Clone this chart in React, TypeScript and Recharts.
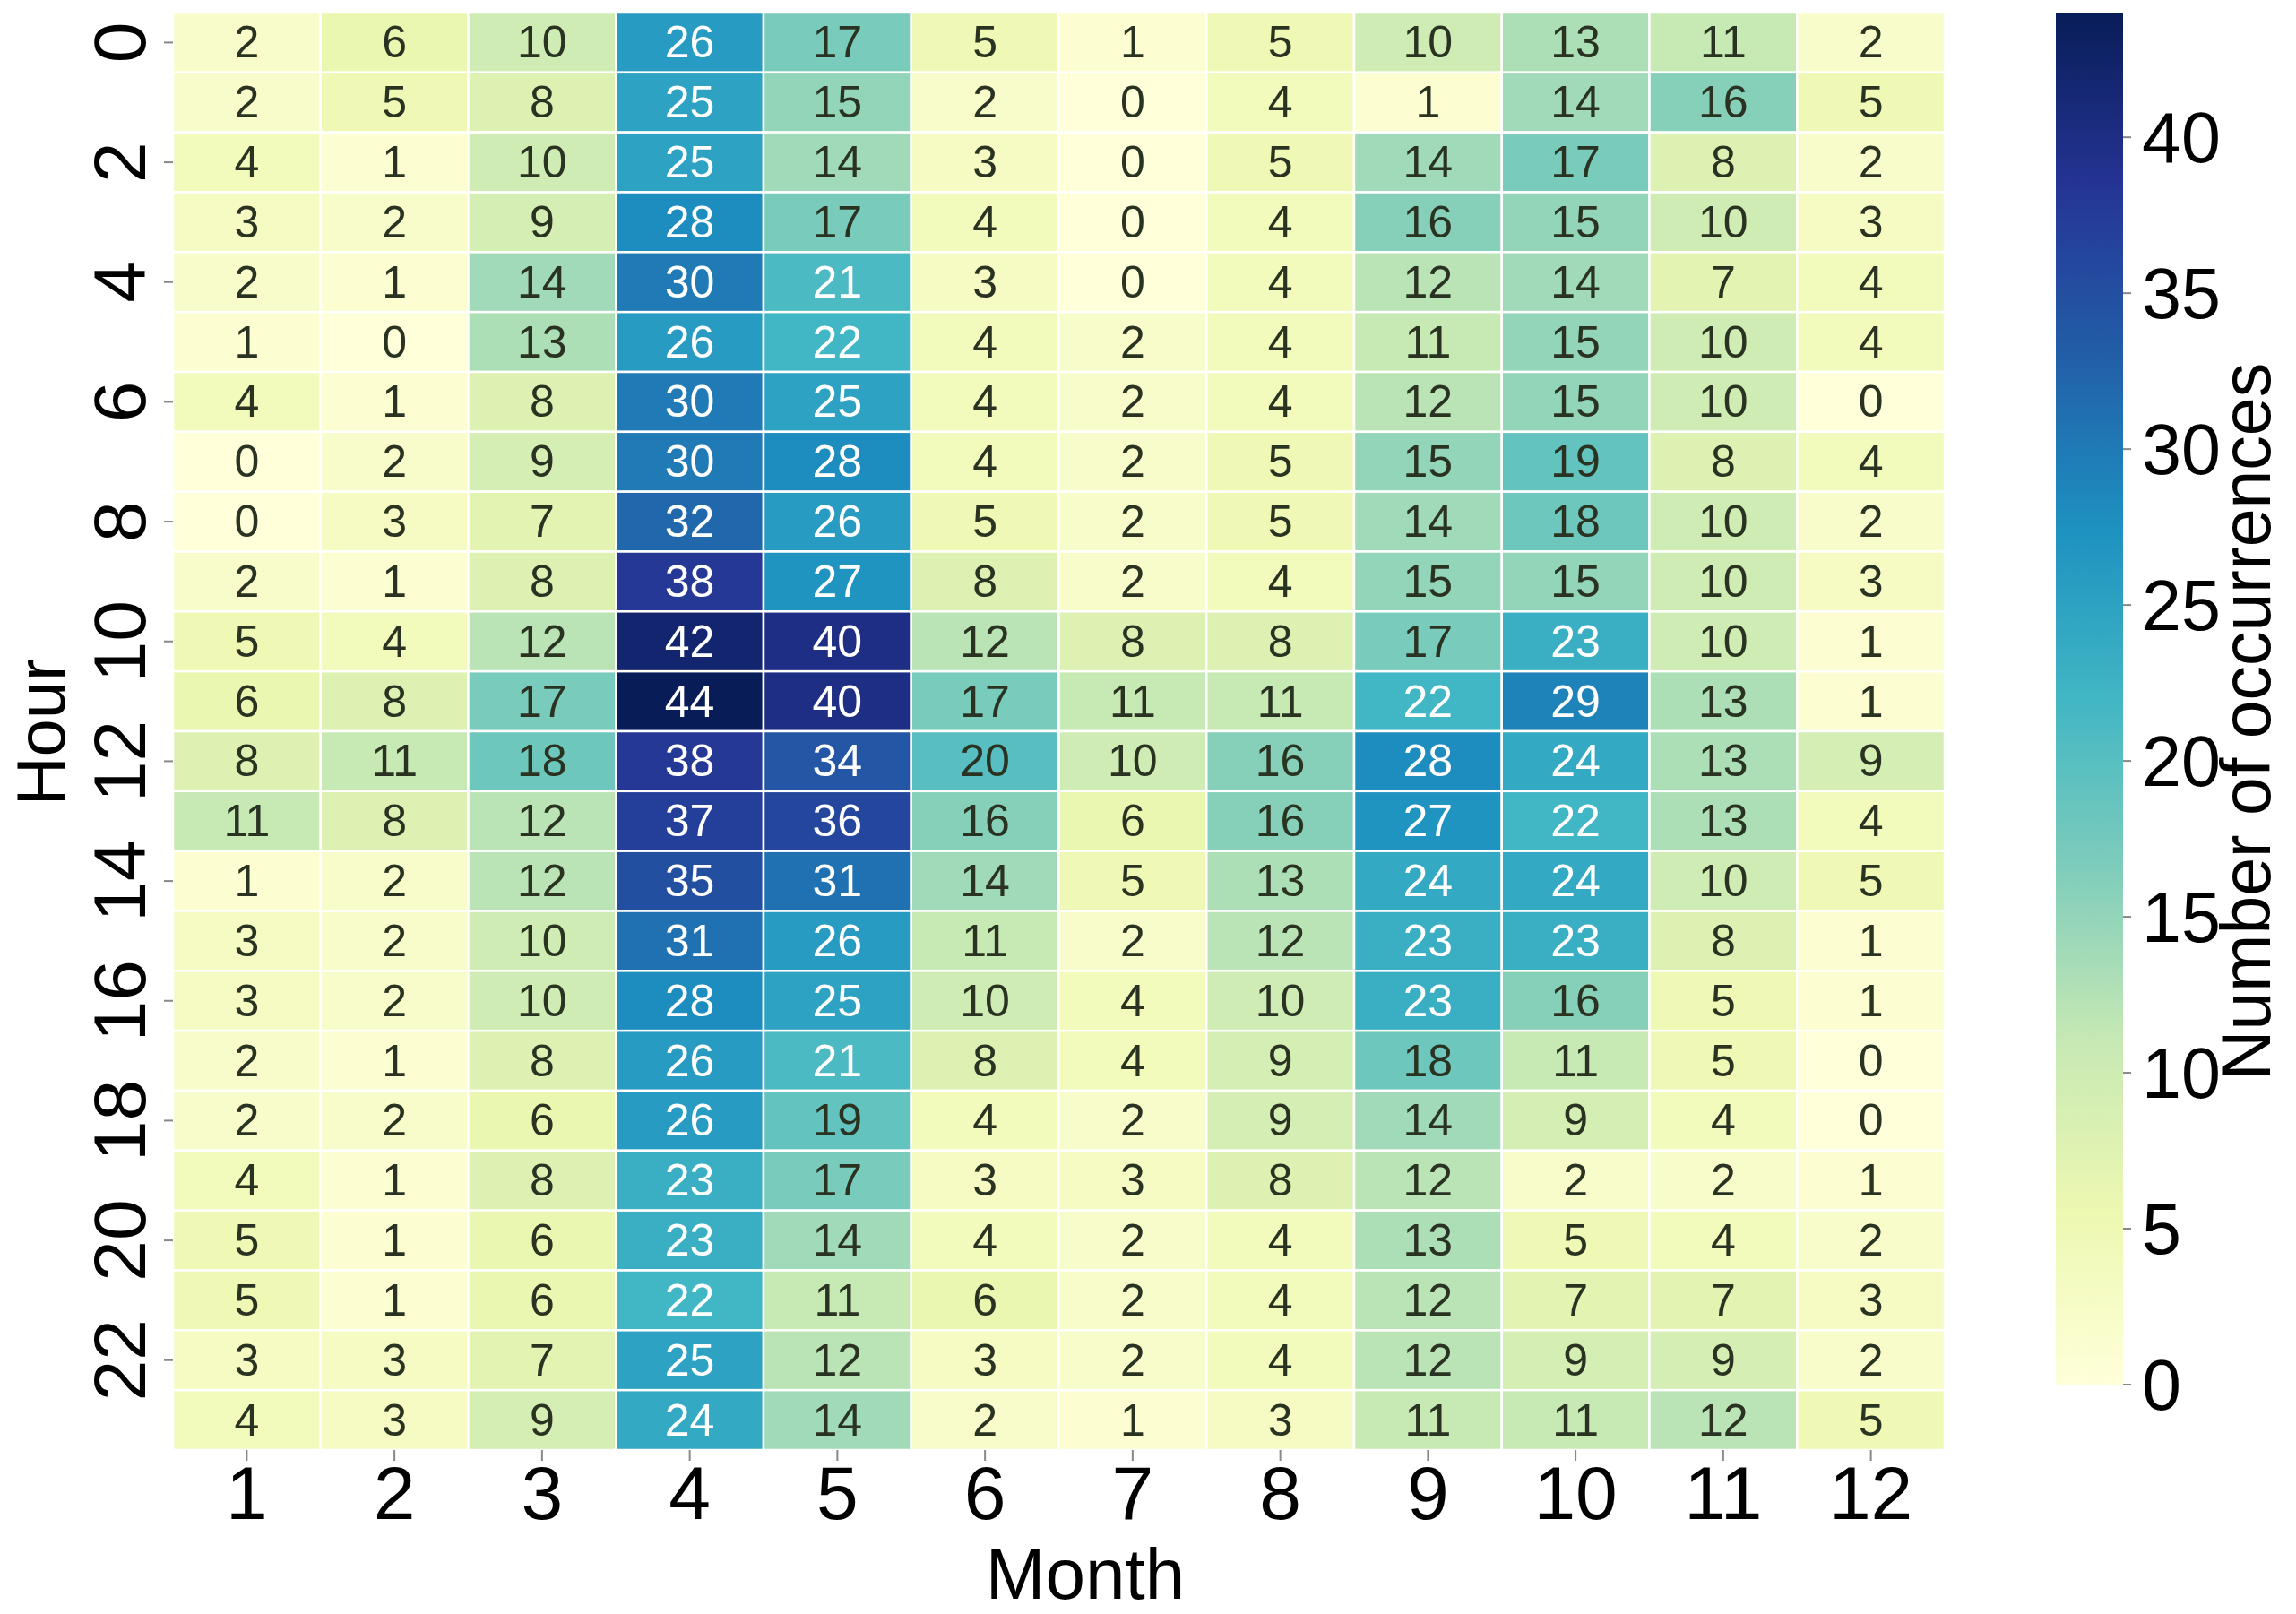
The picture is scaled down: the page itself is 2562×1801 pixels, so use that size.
import { ScatterChart, Scatter, XAxis, YAxis, BarChart, Bar } from "recharts"

const FONT = '"Liberation Sans", Arial, Helvetica, sans-serif'

const months = [1, 2, 3, 4, 5, 6, 7, 8, 9, 10, 11, 12]
const hours = [0, 1, 2, 3, 4, 5, 6, 7, 8, 9, 10, 11, 12, 13, 14, 15, 16, 17, 18, 19, 20, 21, 22, 23]
const hourTicks = [0, 2, 4, 6, 8, 10, 12, 14, 16, 18, 20, 22]
const colorbarTicks = [0, 5, 10, 15, 20, 25, 30, 35, 40]
const colorMax = 44

// occurrences per hour (0..23) for each month
const jan = [2, 2, 4, 3, 2, 1, 4, 0, 0, 2, 5, 6, 8, 11, 1, 3, 3, 2, 2, 4, 5, 5, 3, 4]
const feb = [6, 5, 1, 2, 1, 0, 1, 2, 3, 1, 4, 8, 11, 8, 2, 2, 2, 1, 2, 1, 1, 1, 3, 3]
const mar = [10, 8, 10, 9, 14, 13, 8, 9, 7, 8, 12, 17, 18, 12, 12, 10, 10, 8, 6, 8, 6, 6, 7, 9]
const apr = [26, 25, 25, 28, 30, 26, 30, 30, 32, 38, 42, 44, 38, 37, 35, 31, 28, 26, 26, 23, 23, 22, 25, 24]
const may = [17, 15, 14, 17, 21, 22, 25, 28, 26, 27, 40, 40, 34, 36, 31, 26, 25, 21, 19, 17, 14, 11, 12, 14]
const jun = [5, 2, 3, 4, 3, 4, 4, 4, 5, 8, 12, 17, 20, 16, 14, 11, 10, 8, 4, 3, 4, 6, 3, 2]
const jul = [1, 0, 0, 0, 0, 2, 2, 2, 2, 2, 8, 11, 10, 6, 5, 2, 4, 4, 2, 3, 2, 2, 2, 1]
const aug = [5, 4, 5, 4, 4, 4, 4, 5, 5, 4, 8, 11, 16, 16, 13, 12, 10, 9, 9, 8, 4, 4, 4, 3]
const sep = [10, 1, 14, 16, 12, 11, 12, 15, 14, 15, 17, 22, 28, 27, 24, 23, 23, 18, 14, 12, 13, 12, 12, 11]
const oct = [13, 14, 17, 15, 14, 15, 15, 19, 18, 15, 23, 29, 24, 22, 24, 23, 16, 11, 9, 2, 5, 7, 9, 11]
const nov = [11, 16, 8, 10, 7, 10, 10, 8, 10, 10, 10, 13, 13, 13, 10, 8, 5, 5, 4, 2, 4, 7, 9, 12]
const dec = [2, 5, 2, 3, 4, 4, 0, 4, 2, 3, 1, 1, 9, 4, 5, 1, 1, 0, 0, 1, 2, 3, 2, 5]

const byMonth = [jan, feb, mar, apr, may, jun, jul, aug, sep, oct, nov, dec]

const cells = months.flatMap((m, i) =>
  hours.map((h) => ({ month: m, hour: h, count: byMonth[i][h] }))
)

// YlGnBu
const ylgnbu = ["#ffffd9", "#edf8b1", "#c7e9b4", "#7fcdbb", "#41b6c4", "#1d91c0", "#225ea8", "#253494", "#081d58"]

function hexToRgb(h: string) {
  return [parseInt(h.slice(1, 3), 16), parseInt(h.slice(3, 5), 16), parseInt(h.slice(5, 7), 16)]
}

function cmapRgb(v: number) {
  const t = Math.max(0, Math.min(1, v / colorMax))
  const pos = t * (ylgnbu.length - 1)
  const i = Math.min(Math.floor(pos), ylgnbu.length - 2)
  const f = pos - i
  const a = hexToRgb(ylgnbu[i])
  const b = hexToRgb(ylgnbu[i + 1])
  return a.map((c, k) => Math.round(c + (b[k] - c) * f))
}

function cmap(v: number) {
  const [r, g, b] = cmapRgb(v)
  return `rgb(${r},${g},${b})`
}

function textColor(v: number) {
  const lin = cmapRgb(v).map((c) => {
    const s = c / 255
    return s <= 0.03928 ? s / 12.92 : Math.pow((s + 0.055) / 1.055, 2.4)
  })
  const lum = 0.2126 * lin[0] + 0.7152 * lin[1] + 0.0722 * lin[2]
  return lum > 0.408 ? "#2a3322" : "#ffffff"
}

const W = 2562
const H = 1801
const plotLeft = 193
const plotRight = 2170
const plotTop = 14
const plotBottom = 1618
const cellW = (plotRight - plotLeft) / months.length
const cellH = (plotBottom - plotTop) / hours.length

function HeatCell(props: any) {
  const { cx, cy, payload } = props
  if (cx == null || cy == null) return null
  return (
    <g>
      <rect
        x={cx - cellW / 2}
        y={cy - cellH / 2}
        width={cellW}
        height={cellH}
        fill={cmap(payload.count)}
        stroke="#ffffff"
        strokeWidth={2.5}
      />
      <text
        x={cx}
        y={cy}
        textAnchor="middle"
        dominantBaseline="central"
        fontSize={50}
        fontFamily={FONT}
        fill={textColor(payload.count)}
      >
        {payload.count}
      </text>
    </g>
  )
}

function HourTick(props: any) {
  const { x, y, payload } = props
  const tx = x - 21
  return (
    <text
      x={tx}
      y={y}
      transform={`rotate(-90, ${tx}, ${y})`}
      textAnchor="middle"
      fontSize={82}
      fontFamily={FONT}
      fill="#000"
    >
      {payload.value}
    </text>
  )
}

function ColorbarShape(props: any) {
  const { x, y, width, height } = props
  const base = y + height
  return (
    <g>
      <defs>
        <linearGradient id="cbGrad" x1="0" y1="1" x2="0" y2="0">
          {ylgnbu.map((c, i) => (
            <stop key={i} offset={i / (ylgnbu.length - 1)} stopColor={c} />
          ))}
        </linearGradient>
      </defs>
      <rect x={x} y={y} width={width} height={height} fill="url(#cbGrad)" />
      <polygon
        points={`${x},${base} ${x + width},${base} ${x + width / 2},${base + 75}`}
        fill={cmap(0)}
      />
    </g>
  )
}

const colorbarData = [{ name: "count", value: colorMax }]

export default function App() {
  return (
    <div
      style={{
        position: "absolute",
        left: 0,
        top: 0,
        width: W,
        height: H,
        background: "#fff",
        fontFamily: FONT,
      }}
    >
      <div style={{ position: "absolute", left: 0, top: 0 }}>
        <ScatterChart
          width={W}
          height={H}
          margin={{ top: plotTop, right: W - plotRight, bottom: 0, left: 0 }}
        >
          <XAxis
            type="number"
            dataKey="month"
            domain={[0.5, 12.5]}
            ticks={months}
            allowDataOverflow
            height={H - plotBottom}
            axisLine={false}
            tickSize={12}
            tickMargin={5}
            tickLine={{ stroke: "#888", strokeWidth: 2 }}
            tick={{ fontSize: 84, fill: "#000", fontFamily: FONT }}
          />
          <YAxis
            type="number"
            dataKey="hour"
            domain={[-0.5, 23.5]}
            reversed
            ticks={hourTicks}
            allowDataOverflow
            width={plotLeft}
            axisLine={false}
            tickSize={10}
            tickMargin={0}
            tickLine={{ stroke: "#888", strokeWidth: 2 }}
            tick={<HourTick />}
          />
          <Scatter data={cells} shape={<HeatCell />} isAnimationActive={false} />
        </ScatterChart>
      </div>

      <div style={{ position: "absolute", left: 2294, top: 0 }}>
        <BarChart
          width={75 + 170}
          height={H}
          data={colorbarData}
          margin={{ top: plotTop, right: 0, bottom: H - 1545, left: 0 }}
          barCategoryGap={0}
        >
          <XAxis dataKey="name" hide />
          <YAxis
            orientation="right"
            type="number"
            domain={[0, colorMax]}
            ticks={colorbarTicks}
            allowDataOverflow
            width={170}
            axisLine={false}
            tickSize={9}
            tickMargin={12}
            tickLine={{ stroke: "#888", strokeWidth: 2 }}
            tick={{ fontSize: 79, fill: "#000", fontFamily: FONT }}
          />
          <Bar dataKey="value" shape={<ColorbarShape />} isAnimationActive={false} />
        </BarChart>
      </div>

      <svg
        width={W}
        height={H}
        style={{ position: "absolute", left: 0, top: 0, pointerEvents: "none" }}
      >
        <text
          x={72}
          y={817}
          transform="rotate(-90, 72, 817)"
          textAnchor="middle"
          fontSize={76}
          fontFamily={FONT}
          fill="#000"
        >
          Hour
        </text>
        <text x={1211} y={1784} textAnchor="middle" fontSize={80} fontFamily={FONT} fill="#000">
          Month
        </text>
        <text
          x={2533}
          y={805}
          transform="rotate(-90, 2533, 805)"
          textAnchor="middle"
          fontSize={77}
          fontFamily={FONT}
          fill="#000"
        >
          Number of occurrences
        </text>
      </svg>
    </div>
  )
}
